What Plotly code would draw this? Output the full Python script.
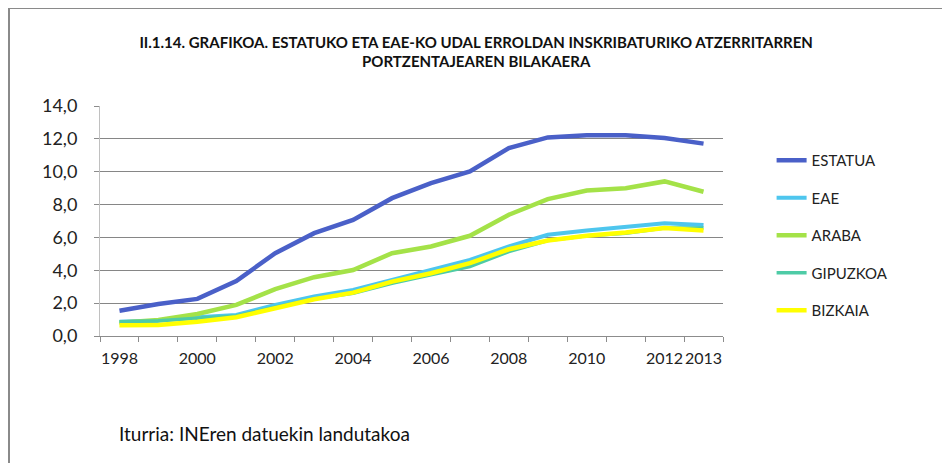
import plotly.graph_objects as go

years = list(range(1998, 2014))
tick_years = [1998, 2000, 2002, 2004, 2006, 2008, 2010, 2012, 2013]
tick_labels = ["1998", "2000", "2002", "2004", "2006", "2008", "2010", "2012", "2013"]

estatua = [1.54, 1.95, 2.26, 3.35, 5.04, 6.26, 7.07, 8.39, 9.31, 10.02, 11.44, 12.09, 12.22, 12.22, 12.05, 11.71]
eae = [0.87, 0.93, 1.14, 1.28, 1.89, 2.40, 2.80, 3.41, 4.02, 4.63, 5.45, 6.16, 6.42, 6.63, 6.87, 6.75]
araba = [0.81, 0.98, 1.34, 1.89, 2.85, 3.58, 4.02, 5.04, 5.45, 6.10, 7.38, 8.33, 8.86, 9.00, 9.41, 8.78]
gipuzkoa = [0.87, 0.93, 1.08, 1.22, 1.75, 2.26, 2.60, 3.21, 3.72, 4.23, 5.14, 5.81, 6.10, 6.26, 6.57, 6.57]
bizkaia = [0.65, 0.67, 0.87, 1.14, 1.69, 2.24, 2.64, 3.31, 3.82, 4.43, 5.28, 5.81, 6.10, 6.30, 6.57, 6.42]

series = [
    ("ESTATUA", estatua, "#4a60c8", 4.5),
    ("EAE", eae, "#4ec6ee", 4),
    ("ARABA", araba, "#a4e248", 4.5),
    ("GIPUZKOA", gipuzkoa, "#4ecba6", 3.5),
    ("BIZKAIA", bizkaia, "#ffff00", 4.5),
]

FONT = "Lato, Calibri, sans-serif"

fig = go.Figure()
for i, (name, vals, color, w) in enumerate(series):
    fig.add_trace(go.Scatter(
        x=years, y=vals, name=name, mode="lines",
        line=dict(color=color, width=w),
        legendgroup=f"g{i}",
    ))

# page body has an 8px margin, so the figure is 942x455 to fill the 950x463 window
fig.update_layout(
    width=942, height=455,
    margin=dict(l=92, r=227, t=98, b=127, autoexpand=False),
    paper_bgcolor="white", plot_bgcolor="white",
    separators=",.",
    font=dict(family=FONT, color="#222"),
    showlegend=True,
    legend=dict(
        x=1.078, xanchor="left", y=0.835, yanchor="top",
        font=dict(size=15, family=FONT, color="#222"),
        tracegroupgap=15, traceorder="grouped",
        itemwidth=30, bgcolor="rgba(0,0,0,0)",
    ),
    title=dict(
        text="II.1.14. GRAFIKOA. ESTATUKO ETA EAE-KO UDAL ERROLDAN INSKRIBATURIKO ATZERRITARREN<br>PORTZENTAJEAREN BILAKAERA",
        x=0.497, xref="container", xanchor="center", y=0.913, yanchor="middle",
        font=dict(size=15, family=FONT, color="#111", weight="bold"),
    ),
)

fig.update_xaxes(
    range=[1997.5, 2013.5], automargin=False,
    tickmode="array", tickvals=tick_years, ticktext=tick_labels,
    tickangle=0,
    ticks="", showgrid=False, zeroline=False,
    showline=True, linecolor="#8c8c8c", linewidth=1,
    tickfont=dict(size=16, family=FONT, color="#222"),
    ticklabelstandoff=8,
    minor=dict(tickmode="linear", tick0=1997.5, dtick=1, ticks="outside",
               ticklen=5, tickcolor="#8c8c8c", tickwidth=1, showgrid=False),
)
fig.update_yaxes(
    range=[0, 14], dtick=2, tick0=0, tickformat=".1f", automargin=False,
    showgrid=True, gridcolor="#868686", gridwidth=1,
    zeroline=False,
    showline=True, linecolor="#c0c0c0", linewidth=1,
    ticks="outside", ticklen=5, tickcolor="#8c8c8c",
    tickfont=dict(size=18, family=FONT, color="#222"),
    ticklabelstandoff=13,
)

# outer chart border
fig.add_shape(type="rect", xref="paper", yref="paper",
              x0=(9 - 100) / 623, x1=(946 - 100) / 623,
              y0=(336 - 480) / 230, y1=(336 - 8) / 230,
              line=dict(color="#8a8a8a", width=2), layer="below")

fig.add_annotation(
    text="Iturria: INEren datuekin landutakoa",
    xref="paper", yref="paper",
    x=(117 - 100) / 623, y=(336 - 433) / 230,
    xanchor="left", yanchor="middle", showarrow=False,
    font=dict(size=19, family=FONT, color="#111"),
)

fig.write_html("out.html")
